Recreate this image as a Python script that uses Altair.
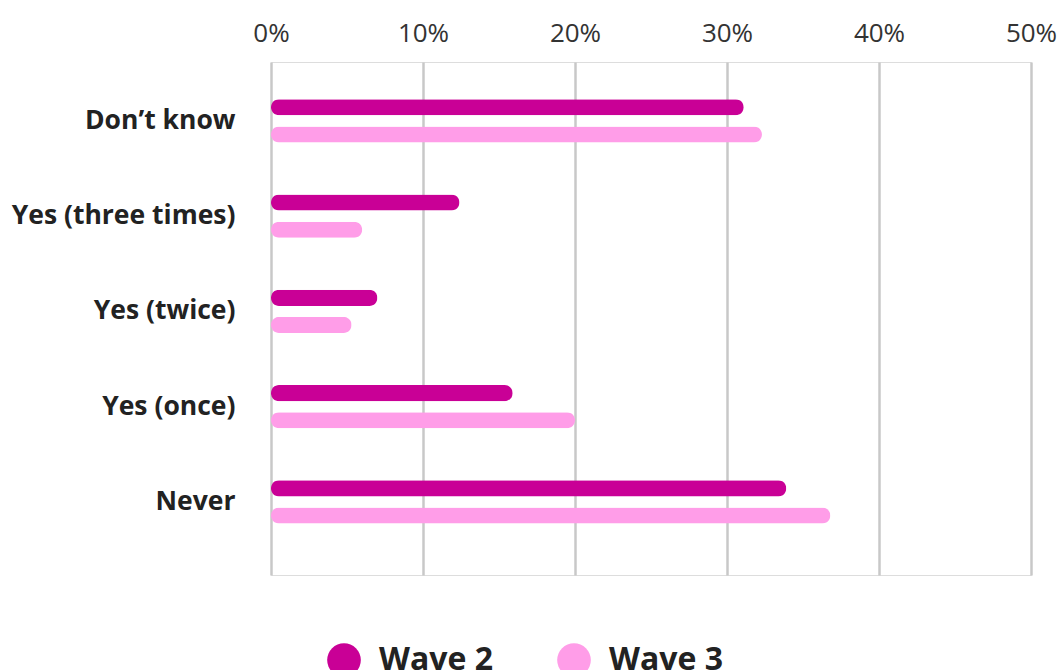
import altair as alt
import pandas as pd

categories = ["Don\u2019t know", "Yes (three times)", "Yes (twice)", "Yes (once)", "Never"]
series = ["Wave 2", "Wave 3"]
wave2 = [31.1, 12.4, 7.0, 15.9, 33.9]
wave3 = [32.3, 6.0, 5.3, 20.0, 36.8]
tick_values = [0, 0.1, 0.2, 0.3, 0.4, 0.5]
colors = ["#C90096", "#FF9DE8"]

rows = []
for c, a, b in zip(categories, wave2, wave3):
    rows.append({"category": c, "wave": "Wave 2", "value": a / 100})
    rows.append({"category": c, "wave": "Wave 3", "value": b / 100})
df = pd.DataFrame(rows)

FONT = "Open Sans"

chart = alt.Chart(df).mark_bar(cornerRadius=8).encode(
    x=alt.X("value:Q",
            scale=alt.Scale(domain=[0, 0.5], nice=False),
            axis=alt.Axis(orient="top", format=".0%", values=tick_values,
                          domain=False, ticks=False, grid=True, gridColor="#C8C8C8",
                          gridWidth=2.5, labelFont=FONT, labelFontSize=26,
                          labelColor="#333333", labelPadding=16, title=None,
                          labelFlush=False)),
    y=alt.Y("category:N", sort=categories,
            scale=alt.Scale(paddingInner=0.547, paddingOuter=0.466, align=0.42),
            axis=alt.Axis(domain=False, ticks=False, grid=False, labelFont=FONT,
                          labelFontSize=26.5, labelFontWeight="bold", labelColor="#222222",
                          labelPadding=36, title=None, labelLimit=400)),
    yOffset=alt.YOffset("wave:N", sort=series,
                        scale=alt.Scale(paddingInner=0.407, paddingOuter=0)),
    color=alt.Color("wave:N", sort=series,
                    scale=alt.Scale(domain=series, range=colors),
                    legend=alt.Legend(orient="none", legendX=56, legendY=581,
                                      direction="horizontal", title=None,
                                      symbolType="circle", symbolSize=1134,
                                      symbolStrokeWidth=0, labelFont=FONT,
                                      labelFontSize=32, labelFontWeight="bold",
                                      labelColor="#222222", labelOffset=18,
                                      columnPadding=64, symbolOpacity=1)),
).properties(
    width=760,
    height=513,
    autosize=alt.AutoSizeParams(type="none"),
    padding={"left": 271, "top": 62, "right": 29, "bottom": 95},
).configure_view(
    strokeWidth=0, stroke="transparent", strokeOpacity=0
).configure_axis(
    domain=False
).configure(background="white")

chart.save("out.html", embed_options={"renderer": "svg", "actions": False})
